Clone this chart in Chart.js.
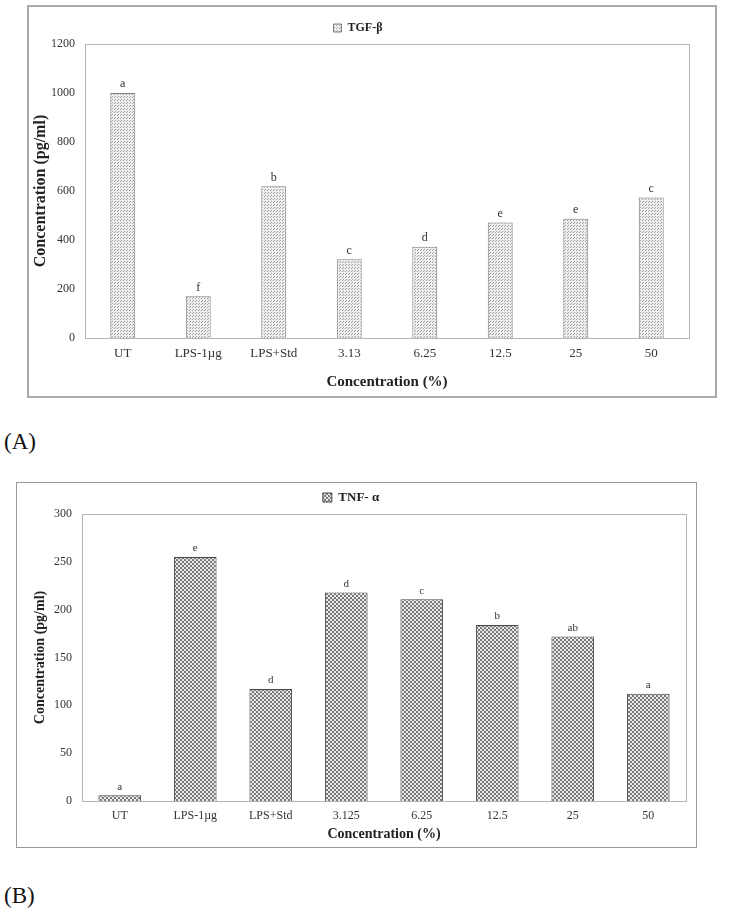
<!DOCTYPE html>
<html>
<head>
<meta charset="utf-8">
<script src="https://cdn.jsdelivr.net/npm/chart.js@4/dist/chart.umd.min.js"></script>
<style>
  body { margin: 0; background: #fff; width: 744px; height: 911px; overflow: hidden; position: relative; font-family: "Liberation Serif", serif; }
  .frame { position: absolute; box-sizing: border-box; }
  .wrap { position: absolute; }
  .tag { position: absolute; font-size: 23px; color: #111; line-height: 1; }
</style>
</head>
<body>
<div class="frame" style="left:27px;top:5px;width:690px;height:393px;border:2px solid #aaa"></div>
<div class="wrap" style="left:27px;top:5px;width:730px;height:393px"><canvas id="chartA"></canvas></div>
<div class="tag" style="left:4px;top:430px">(A)</div>

<div class="frame" style="left:16px;top:482px;width:681px;height:366px;border:1.5px solid #999"></div>
<div class="wrap" style="left:16px;top:479px;width:694px;height:369px"><canvas id="chartB"></canvas></div>
<div class="tag" style="left:4px;top:884px">(B)</div>

<script>
Chart.defaults.font.family = '"Liberation Serif", serif'
Chart.defaults.color = '#333'

// TGF-beta panel
const tgfLabels = ['UT', 'LPS-1µg', 'LPS+Std', '3.13', '6.25', '12.5', '25', '50']
const tgfValues = [1000, 170, 619, 321, 372, 471, 487, 573]
const tgfLetters = ['a', 'f', 'b', 'c', 'd', 'e', 'e', 'c']

// TNF-alpha panel
const tnfLabels = ['UT', 'LPS-1µg', 'LPS+Std', '3.125', '6.25', '12.5', '25', '50']
const tnfValues = [6, 255, 117, 218, 211, 184, 172, 112]
const tnfLetters = ['a', 'e', 'd', 'd', 'c', 'b', 'ab', 'a']

const makePattern = (size, draw) => {
    const c = document.createElement('canvas')
    c.width = c.height = size
    const g = c.getContext('2d')
    draw(g)
    return g.createPattern(c, 'repeat')
}

const dotFill = makePattern(3, g => {
    g.fillStyle = '#eeeeee'
    g.fillRect(0, 0, 3, 3)
    g.fillStyle = '#a0a0a0'
    g.fillRect(1, 1, 1, 1)
    g.fillRect(0, 2, 1, 1)
})

const checkFill = makePattern(4, g => {
    g.fillStyle = '#e8e8e8'
    g.fillRect(0, 0, 4, 4)
    g.fillStyle = '#7a7a7a'
    g.fillRect(0, 0, 2, 2)
    g.fillRect(2, 2, 2, 2)
})

// box round the plot area
const plotBox = {
    id: 'plotBox',
    beforeDatasetsDraw(chart, args, opts) {
        const { ctx, chartArea: a } = chart
        ctx.save()
        ctx.strokeStyle = opts.color
        ctx.lineWidth = 1
        ctx.strokeRect(a.left + 0.5, a.top + 0.5, a.right - a.left, a.bottom - a.top)
        ctx.restore()
    }
}

// significance letters above bars
const letterTags = {
    id: 'letterTags',
    afterDatasetsDraw(chart, args, opts) {
        const { ctx } = chart
        ctx.save()
        ctx.font = opts.font
        ctx.fillStyle = '#333'
        ctx.textAlign = 'center'
        ctx.textBaseline = 'bottom'
        chart.getDatasetMeta(0).data.forEach((bar, i) => {
            ctx.fillText(opts.letters[i], bar.x, bar.y - 3)
        })
        ctx.restore()
    }
}

const renderPanel = (id, cfg) => {
    const data = {
        labels: cfg.labels,
        datasets: [{
            label: cfg.name,
            data: cfg.values,
            backgroundColor: cfg.fill,
            borderColor: cfg.border,
            borderWidth: 1,
            barPercentage: cfg.barPct,
            categoryPercentage: 1
        }]
    }

    const options = {
        responsive: true,
        maintainAspectRatio: false,
        animation: false,
        layout: { padding: { left: 0, right: cfg.padRight, top: cfg.padTop, bottom: 0 } },
        plugins: {
            legend: {
                position: 'top',
                labels: {
                    boxWidth: cfg.legendBox, boxHeight: cfg.legendBox,
                    padding: cfg.legendPad,
                    color: '#222',
                    font: { size: cfg.legendSize, weight: 'bold' }
                }
            },
            tooltip: { enabled: false },
            plotBox: { color: '#b5b5b5' },
            letterTags: { letters: cfg.letters, font: cfg.letterFont }
        },
        scales: {
            x: {
                grid: { display: false, drawTicks: false },
                border: { display: false },
                ticks: { padding: cfg.xTickPad, color: '#333', font: { size: cfg.xTickSize } },
                title: {
                    display: true, text: 'Concentration (%)', color: '#222',
                    font: { size: cfg.xTitleSize, weight: 'bold' },
                    padding: { top: 0, bottom: cfg.xTitlePad }
                },
                afterFit: s => { s.height = cfg.xHeight }
            },
            y: {
                min: 0, max: cfg.max,
                grid: { display: false, drawTicks: false },
                border: { display: false },
                ticks: {
                    stepSize: cfg.step, padding: cfg.yTickPad, color: '#333', font: { size: 12 },
                    callback: v => String(v)
                },
                title: {
                    display: true, text: 'Concentration (pg/ml)', color: '#222',
                    font: { size: cfg.yTitleSize, weight: 'bold' },
                    padding: { top: cfg.yTitlePad, bottom: 0 }
                },
                afterFit: s => { s.width = cfg.yWidth }
            }
        }
    }

    new Chart(id, { type: 'bar', data, options, plugins: [plotBox, letterTags] })
}

renderPanel('chartA', {
    name: 'TGF-β', labels: tgfLabels, values: tgfValues, letters: tgfLetters,
    fill: dotFill, border: '#808080', barPct: 0.33,
    max: 1200, step: 200,
    padRight: 68, padTop: 5,
    legendBox: 8, legendPad: 12, legendSize: 12,
    letterFont: '12px "Liberation Serif"',
    xTickPad: 8, xTickSize: 13, xTitleSize: 15, xTitlePad: 7, xHeight: 60,
    yTickPad: 10, yTitleSize: 16, yTitlePad: 4, yWidth: 58
})

renderPanel('chartB', {
    name: 'TNF- α', labels: tnfLabels, values: tnfValues, letters: tnfLetters,
    fill: checkFill, border: '#444', barPct: 0.565,
    max: 300, step: 50,
    padRight: 24, padTop: 2,
    legendBox: 9, legendPad: 10, legendSize: 13,
    letterFont: '11px "Liberation Serif"',
    xTickPad: 8, xTickSize: 12, xTitleSize: 14, xTitlePad: 5, xHeight: 47,
    yTickPad: 10, yTitleSize: 14, yTitlePad: 16, yWidth: 66
})
</script>
</body>
</html>
